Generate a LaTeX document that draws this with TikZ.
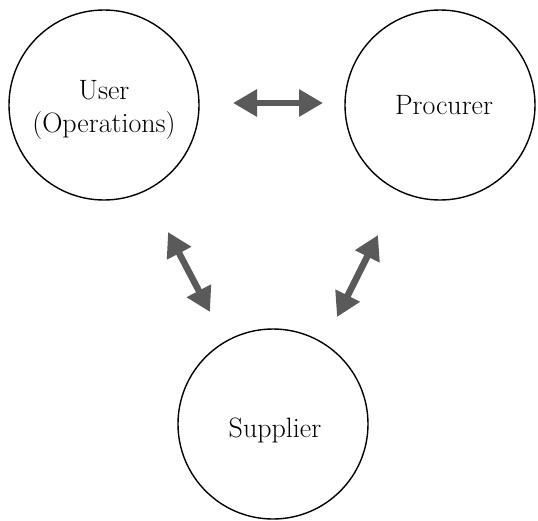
\documentclass[tikz,border=0pt]{standalone}
\usepackage{fontspec}
\usetikzlibrary{arrows.meta}
\definecolor{linkgray}{HTML}{5A5A5A}
\begin{document}
\begin{tikzpicture}[x=1pt,y=-1pt,
  party/.style={draw=black,line width=1.4pt,circle,minimum size=190pt,inner sep=0pt},
  caption/.style={font=\fontsize{28}{33}\selectfont,align=center,inner sep=0pt},
  link/.style={draw=linkgray,line width=6.5pt,
    {Triangle[width=26pt,length=24pt]}-{Triangle[width=26pt,length=24pt]}}]
  \useasboundingbox (0,0) rectangle (538,520);

  % the three parties
  \node[party] (user) at (104,105) {};
  \node[party] (proc) at (440,105) {};
  \node[party] (supp) at (273,424) {};

  % their names
  \node[caption] (userlbl) at (104,110) {User\\(Operations)};
  \node[caption,anchor=base] (proclbl) at (444,114) {Procurer};
  \node[caption,anchor=base] (supplbl) at (275,437) {Supplier};

  % ends of the two-way links
  \coordinate (up1) at (233,103);
  \coordinate (up2) at (323,103);
  \coordinate (us1) at (168,232);
  \coordinate (us2) at (210,312);
  \coordinate (ps1) at (378,235);
  \coordinate (ps2) at (337,317);

  \draw[link] (up1) -- (up2);
  \draw[link] (us1) -- (us2);
  \draw[link] (ps1) -- (ps2);
\end{tikzpicture}
\end{document}
